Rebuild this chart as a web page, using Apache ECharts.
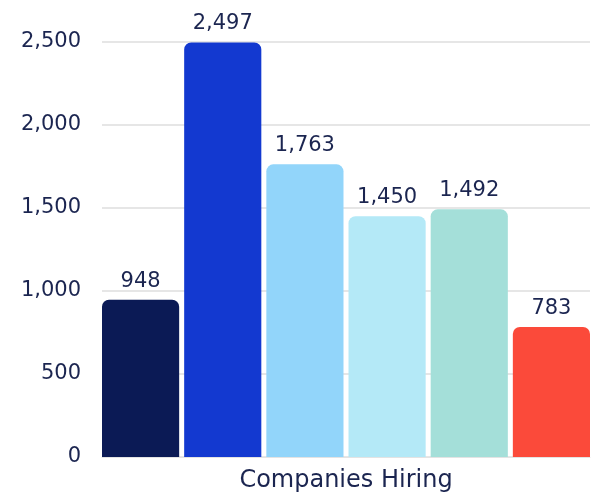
<!DOCTYPE html>
<html>
<head>
<meta charset="utf-8">
<script src="https://cdn.jsdelivr.net/npm/echarts@6/dist/echarts.min.js"></script>
<style>
  html, body { margin: 0; padding: 0; background: #ffffff; }
  #chart { width: 593px; height: 496px; }
</style>
</head>
<body>
<div id="chart"></div>
<script>
// Companies hiring, one bar per group within a single category
const categories = ['Companies Hiring'];
const groupNames = ['Group 1', 'Group 2', 'Group 3', 'Group 4', 'Group 5', 'Group 6'];
const groupValues = [948, 2497, 1763, 1450, 1492, 783];
const groupColors = ['#0b1a55', '#1339d0', '#92d5fa', '#b4e9f7', '#a4dfd9', '#fb4a3a'];
const yTicks = { min: 0, max: 2500, interval: 500 };

const textColor = '#1b2550';
const fontFamily = '"DejaVu Sans", "Noto Sans", sans-serif';

const chart = echarts.init(document.getElementById('chart'), null, { renderer: 'canvas' });

const series = groupValues.map((v, i) => ({
  name: groupNames[i],
  type: 'bar',
  data: [v],
  barGap: '6.5%',
  barCategoryGap: 0,
  itemStyle: { color: groupColors[i], borderRadius: [7, 7, 0, 0] },
  label: {
    show: true,
    position: 'top',
    distance: 8,
    color: textColor,
    fontFamily: fontFamily,
    fontSize: 21,
    formatter: p => p.value.toLocaleString('en-US')
  }
}));

chart.setOption({
  animation: false,
  grid: { left: 102, right: 3, top: 42, bottom: 39, containLabel: false },
  xAxis: {
    type: 'category',
    data: categories,
    axisLine: { show: true, lineStyle: { color: '#e3e3e3', width: 1 } },
    axisTick: { show: false },
    axisLabel: { color: textColor, fontFamily: fontFamily, fontSize: 24, margin: 12 }
  },
  yAxis: {
    type: 'value',
    min: yTicks.min,
    max: yTicks.max,
    interval: yTicks.interval,
    axisLine: { show: false },
    axisTick: { show: false },
    splitLine: { lineStyle: { color: '#dedede', width: 1.5 } },
    axisLabel: {
      color: textColor,
      fontFamily: fontFamily,
      fontSize: 21,
      margin: 21,
      formatter: v => v.toLocaleString('en-US')
    }
  },
  series: series
});
</script>
</body>
</html>
